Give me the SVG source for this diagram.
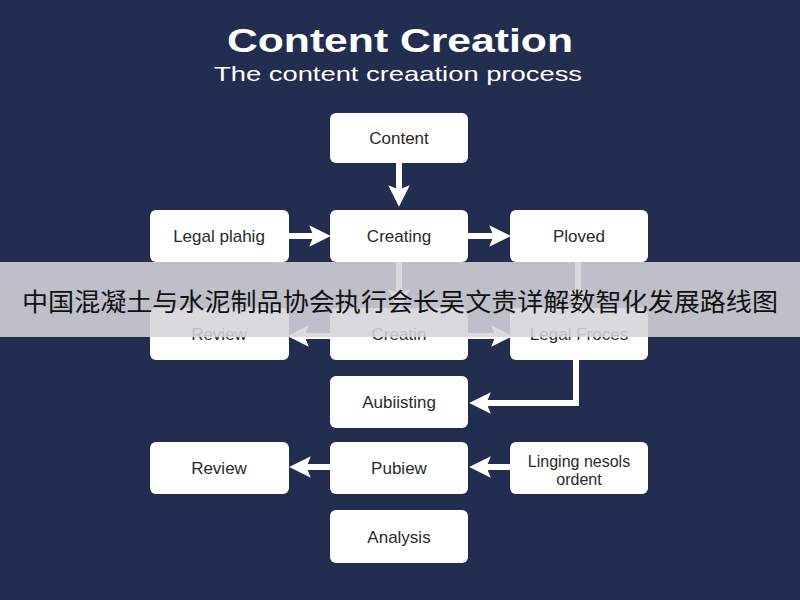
<svg xmlns="http://www.w3.org/2000/svg" width="800" height="600" viewBox="0 0 800 600">
<defs>
<style>
.n rect{fill:#fff;rx:6px;ry:6px}
.n text{font-family:"Liberation Sans",Arial,sans-serif;font-size:17px;fill:#2a2a2a;text-anchor:middle;dominant-baseline:central}
.c line,.c polyline{stroke:#fff;stroke-width:6;fill:none;marker-end:url(#ah)}
</style>
<marker id="ah" viewBox="0 0 10 10" refX="5" refY="5" markerWidth="3.6" markerHeight="3.6" orient="auto" markerUnits="strokeWidth"><path d="M0,0L10,5L0,10L2,5Z" fill="#fff"/></marker>
</defs>
<rect width="800" height="600" fill="#232d50"/>
<text x="400" y="52" font-family="Liberation Sans,Arial,sans-serif" font-size="34" font-weight="bold" fill="#fff" text-anchor="middle" textLength="346" lengthAdjust="spacingAndGlyphs">Content Creation</text>
<text x="398" y="81" font-family="Liberation Sans,Arial,sans-serif" font-size="21" fill="#fff" text-anchor="middle" textLength="368" lengthAdjust="spacingAndGlyphs">The content creaation process</text>
<g class="c">
<line x1="399" y1="163" x2="399" y2="196"/>
<line x1="289" y1="236" x2="320" y2="236"/>
<line x1="468" y1="236" x2="500" y2="236"/>
<line x1="399" y1="262" x2="399" y2="300"/>
<line x1="578" y1="262" x2="578" y2="300"/>
<line x1="330" y1="336" x2="298" y2="336"/>
<line x1="468" y1="336" x2="502" y2="336"/>
<polyline points="576,360 576,403 480,403"/>
<line x1="330" y1="467" x2="300" y2="467"/>
<line x1="510" y1="467" x2="480" y2="467"/>
</g>
<g id="n1" class="n"><rect x="330" y="113" width="138" height="50"/><text x="399" y="138">Content</text></g>
<g id="n2" class="n"><rect x="150" y="210" width="139" height="52"/><text x="219" y="236">Legal plahig</text></g>
<g id="n3" class="n"><rect x="330" y="210" width="138" height="52"/><text x="399" y="236">Creating</text></g>
<g id="n4" class="n"><rect x="510" y="210" width="138" height="52"/><text x="579" y="236">Ploved</text></g>
<g id="n5" class="n"><rect x="150" y="308" width="139" height="52"/><text x="219" y="334">Review</text></g>
<g id="n6" class="n"><rect x="330" y="308" width="138" height="52"/><text x="399" y="334">Creatin</text></g>
<g id="n7" class="n"><rect x="510" y="308" width="138" height="52"/><text x="579" y="334">Legal Froces</text></g>
<g id="n8" class="n"><rect x="330" y="376" width="138" height="52"/><text x="399" y="402">Aubiisting</text></g>
<g id="n9" class="n"><rect x="150" y="442" width="139" height="52"/><text x="219" y="468">Review</text></g>
<g id="n10" class="n"><rect x="330" y="442" width="138" height="52"/><text x="399" y="468">Pubiew</text></g>
<g id="n11" class="n"><rect x="510" y="442" width="138" height="52"/><text x="579" y="461" style="font-size:16px">Linging nesols</text><text x="579" y="479" style="font-size:16px">ordent</text></g>
<g id="n12" class="n"><rect x="330" y="510" width="138" height="53"/><text x="399" y="537">Analysis</text></g>
<rect x="0" y="262" width="800" height="75" fill="#d4d4da" opacity="0.88"/>
<text x="400" y="300" font-family="Noto Sans CJK SC,sans-serif" font-size="25" fill="#111" text-anchor="middle" dominant-baseline="central" textLength="756" lengthAdjust="spacingAndGlyphs">中国混凝土与水泥制品协会执行会长吴文贵详解数智化发展路线图</text>
</svg>
